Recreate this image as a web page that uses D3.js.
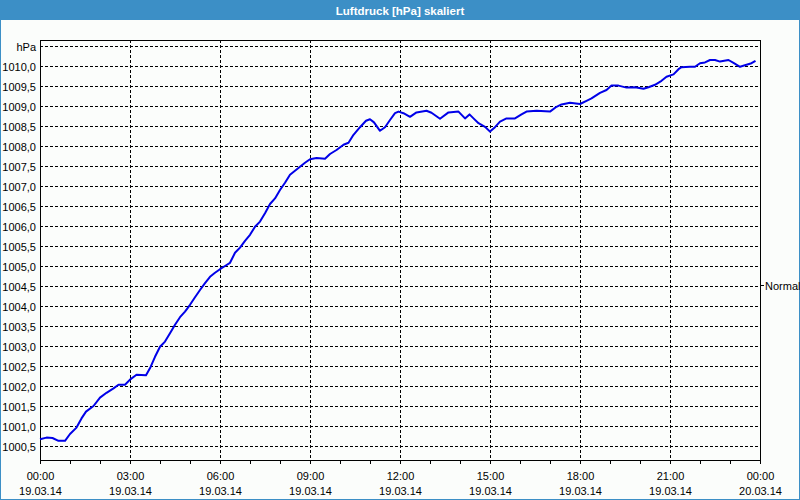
<!DOCTYPE html>
<html><head><meta charset="utf-8">
<script src="https://cdn.jsdelivr.net/npm/d3@7"></script>
<style>
html,body{margin:0;padding:0;background:#fff;}
svg{display:block;}
text{font-family:"Liberation Sans",Arial,sans-serif;}
</style></head>
<body>
<script>
// minutes after 19.03.14 00:00
const minutes = [0,13,25,37,50,60,73,83,92,107,120,133,147,157,170,180,193,212,221,230,240,250,260,270,280,290,300,310,320,330,340,350,360,370,380,390,400,410,420,430,440,450,460,470,480,490,500,510,520,530,540,553,570,580,593,607,617,627,640,652,660,668,680,690,700,710,717,727,740,753,773,783,800,817,837,850,859,867,877,890,900,910,920,933,950,963,973,993,1020,1033,1043,1060,1080,1093,1103,1120,1133,1143,1157,1173,1190,1207,1217,1230,1243,1253,1267,1277,1283,1300,1310,1320,1330,1340,1350,1360,1377,1387,1400,1413,1423,1431];
const pressure = [1000.67,1000.71,1000.70,1000.63,1000.63,1000.80,1000.96,1001.19,1001.36,1001.50,1001.71,1001.83,1001.94,1002.03,1002.03,1002.16,1002.28,1002.27,1002.47,1002.73,1002.98,1003.11,1003.32,1003.53,1003.72,1003.86,1004.03,1004.22,1004.40,1004.57,1004.73,1004.83,1004.92,1005.00,1005.08,1005.33,1005.46,1005.63,1005.78,1005.98,1006.11,1006.32,1006.55,1006.69,1006.90,1007.08,1007.28,1007.38,1007.48,1007.58,1007.67,1007.70,1007.68,1007.80,1007.90,1008.03,1008.08,1008.28,1008.47,1008.63,1008.67,1008.59,1008.38,1008.47,1008.65,1008.82,1008.86,1008.82,1008.73,1008.84,1008.88,1008.83,1008.68,1008.84,1008.86,1008.69,1008.79,1008.69,1008.57,1008.48,1008.36,1008.47,1008.61,1008.69,1008.69,1008.79,1008.86,1008.88,1008.86,1008.98,1009.04,1009.08,1009.05,1009.13,1009.19,1009.33,1009.40,1009.51,1009.51,1009.46,1009.47,1009.43,1009.47,1009.53,1009.63,1009.73,1009.79,1009.92,1009.97,1009.98,1009.98,1010.07,1010.09,1010.15,1010.15,1010.11,1010.15,1010.08,1009.98,1010.03,1010.07,1010.13];
const yTicks = [1000.5,1001.0,1001.5,1002.0,1002.5,1003.0,1003.5,1004.0,1004.5,1005.0,1005.5,1006.0,1006.5,1007.0,1007.5,1008.0,1008.5,1009.0,1009.5,1010.0,1010.5];
const xTickTimes = ["00:00","03:00","06:00","09:00","12:00","15:00","18:00","21:00","00:00"];
const xTickDates = ["19.03.14","19.03.14","19.03.14","19.03.14","19.03.14","19.03.14","19.03.14","19.03.14","20.03.14"];
const title = "Luftdruck [hPa] skaliert";
const unitLabel = "hPa";
const normalLabel = "Normal";
const normalValue = 1004.52;

const W = 800, H = 500;
const L = 40, R = 760, T = 40, B = 460;
const svg = d3.select("body").append("svg").attr("width", W).attr("height", H);

// background and frame
svg.append("rect").attr("x",0).attr("y",0).attr("width",W).attr("height",H).attr("fill","#3c8fc6");
svg.append("rect").attr("x",1).attr("y",20).attr("width",W-2).attr("height",H-21).attr("fill","#fbfdfb");
svg.append("text").attr("x",W/2).attr("y",14.5).attr("text-anchor","middle")
  .attr("fill","#fff").attr("font-weight","bold").attr("font-size","11.5px").text(title);

const x = d3.scaleLinear().domain([0,1440]).range([L,R]);
const y = d3.scaleLinear().domain([1000.15,1010.65]).range([B,T]);

// horizontal grid
const g = svg.append("g");
g.selectAll("line.h").data(yTicks).join("line")
  .attr("x1",L).attr("x2",R)
  .attr("y1",d=>Math.round(y(d))+0.5).attr("y2",d=>Math.round(y(d))+0.5)
  .attr("stroke","#000").attr("stroke-dasharray","3,2").attr("stroke-width",1);
// vertical grid
const vTicks = d3.range(180,1440,180);
g.selectAll("line.v").data(vTicks).join("line")
  .attr("x1",d=>Math.round(x(d))+0.5).attr("x2",d=>Math.round(x(d))+0.5)
  .attr("y1",T).attr("y2",B)
  .attr("stroke","#000").attr("stroke-dasharray","3,2").attr("stroke-width",1);

// y labels
svg.selectAll("text.yl").data(yTicks).join("text")
  .attr("x",36).attr("y",d=>Math.round(y(d))+4.5)
  .attr("text-anchor","end").attr("font-size","11px").attr("fill","#000")
  .text(d=> d===1010.5 ? unitLabel : d3.format(".1f")(d).replace(".",","));

// hourly ticks
svg.selectAll("line.tk").data(d3.range(0,1441,60)).join("line")
  .attr("x1",d=>Math.round(x(d))+0.5).attr("x2",d=>Math.round(x(d))+0.5)
  .attr("y1",B).attr("y2",B+4).attr("stroke","#000");

// x labels
const xl = svg.selectAll("g.xl").data(xTickTimes).join("g")
  .attr("transform",(d,i)=>`translate(${x(i*180)+0.5},0)`);
xl.append("text").attr("y",479.5).attr("text-anchor","middle").attr("font-size","11px").text(d=>d);
xl.append("text").attr("y",494.5).attr("text-anchor","middle").attr("font-size","11px").text((d,i)=>xTickDates[i]);

// frame
svg.append("rect").attr("x",L+0.5).attr("y",T+0.5).attr("width",R-L).attr("height",B-T)
  .attr("fill","none").attr("stroke","#000");

// normal marker
const ny = Math.round(y(normalValue))+0.5;
svg.append("line").attr("x1",R).attr("x2",R+4).attr("y1",ny).attr("y2",ny).attr("stroke","#000");
svg.append("text").attr("x",R+5).attr("y",ny+4).attr("font-size","11px").text(normalLabel);

// data line
const data = minutes.map((m,i)=>({m, v: pressure[i]}));
svg.append("path").datum(data)
  .attr("d", d3.line().x(d=>x(d.m)).y(d=>y(d.v)))
  .attr("fill","none").attr("stroke","#0000e8").attr("stroke-width",2).attr("stroke-linejoin","round");
</script>
</body></html>
